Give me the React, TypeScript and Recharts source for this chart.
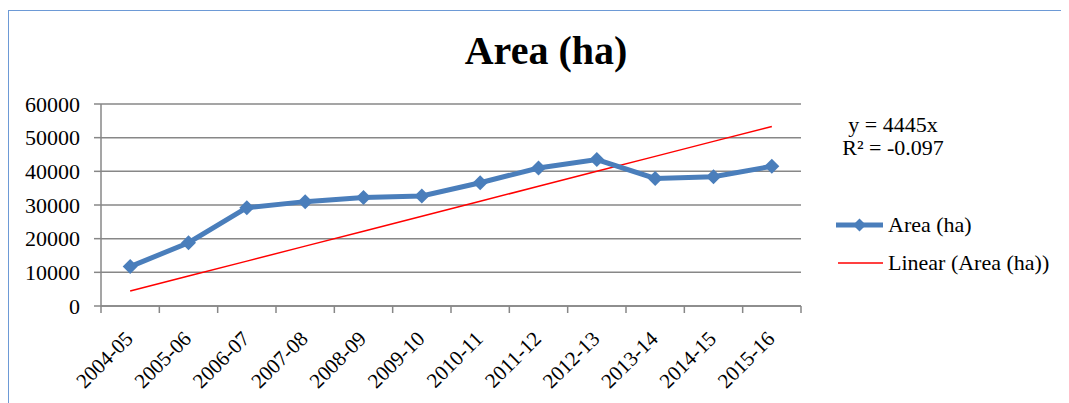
import React from "react"
import { LineChart, Line, XAxis, YAxis, CartesianGrid, Legend } from "recharts"

const categories = ["2004-05", "2005-06", "2006-07", "2007-08", "2008-09", "2009-10", "2010-11", "2011-12", "2012-13", "2013-14", "2014-15", "2015-16"]
const areaValues = [11700, 18800, 29200, 31000, 32200, 32700, 36600, 41000, 43500, 37900, 38400, 41500]
// linear trendline y = 4445x, as labelled on the chart
const trendValues = [4445, 8890, 13335, 17780, 22225, 26670, 31115, 35560, 40005, 44450, 48895, 53340]
const yTicks = [0, 10000, 20000, 30000, 40000, 50000, 60000]
const seriesNames = ["Area (ha)", "Linear (Area (ha))"]
const equationLines = ["y = 4445x", "R² = -0.097"]

const data = categories.map((c, i) => ({ year: c, area: areaValues[i], trend: trendValues[i] }))

const W = 1061
const H = 395
const M = { top: 96, right: 268, bottom: 0, left: 0 }
const Y_W = 93
const X_H = 97
const PLOT_BOTTOM = H - M.bottom - X_H
const BAND = (W - M.left - M.right - Y_W) / categories.length
const FONT = '"Liberation Serif", "Times New Roman", serif'
const BLUE = "#4A7EBB"
const RED = "#FF0000"
const GRID = "#878787"

const Diamond = ({ cx, cy, size = 7.5 }: any) => {
  if (cx == null || cy == null) return null
  return <path d={`M${cx} ${cy - size}L${cx + size} ${cy}L${cx} ${cy + size}L${cx - size} ${cy}Z`} fill={BLUE} />
}

const XTick = ({ x, payload, index }: any) => {
  const half = BAND / 2
  const ax = x + 4
  const ay = PLOT_BOTTOM + 34
  return (
    <g>
      <line x1={x - half} x2={x - half} y1={PLOT_BOTTOM} y2={PLOT_BOTTOM + 7} stroke={GRID} strokeWidth={1.5} />
      {index === categories.length - 1 && (
        <line x1={x + half} x2={x + half} y1={PLOT_BOTTOM} y2={PLOT_BOTTOM + 7} stroke={GRID} strokeWidth={1.5} />
      )}
      <text x={ax} y={ay} transform={`rotate(-45 ${ax} ${ay})`} textAnchor="end" style={{ fontFamily: FONT, fontSize: 21 }} fill="#000">
        {payload.value}
      </text>
    </g>
  )
}

const YTick = ({ x, y, payload }: any) => (
  <text x={x} y={y} dy="0.35em" textAnchor="end" style={{ fontFamily: FONT, fontSize: 22 }} fill="#000">
    {payload.value}
  </text>
)

const LegendBox = () => (
  <svg width={245} height={180} style={{ display: "block", overflow: "visible" }}>
    <g style={{ fontFamily: FONT, fontSize: 22 }} fill="#000">
      <text x={65} y={24} textAnchor="middle">{equationLines[0]}</text>
      <text x={65} y={47} textAnchor="middle">{equationLines[1]}</text>
      <line x1={8} x2={55} y1={117} y2={117} stroke={BLUE} strokeWidth={5} />
      <Diamond cx={31.5} cy={117} size={6.5} />
      <text x={60} y={124}>{seriesNames[0]}</text>
      <line x1={10} x2={55} y1={155} y2={155} stroke={RED} strokeWidth={1.5} />
      <text x={60} y={162}>{seriesNames[1]}</text>
    </g>
  </svg>
)

export default function App() {
  return (
    <div style={{ position: "relative", width: W, height: H }}>
      <div style={{ position: "absolute", left: 0, top: 2, width: W, height: H - 2, borderTop: "1.5px solid #6D9AD6", borderLeft: "1.5px solid #6D9AD6", boxSizing: "border-box" }} />
      <div style={{ position: "absolute", left: 388, top: 23, width: 300, textAlign: "center", fontFamily: FONT, fontWeight: 700, fontSize: 40, lineHeight: "40px", color: "#000" }}>
        Area (ha)
      </div>
      <LineChart width={W} height={H} data={data} margin={M}>
        <CartesianGrid vertical={false} stroke={GRID} strokeWidth={1.5} />
        <XAxis
          dataKey="year"
          scale="band"
          height={X_H}
          interval={0}
          tickLine={false}
          axisLine={{ stroke: GRID, strokeWidth: 1.5 }}
          tick={<XTick />}
        />
        <YAxis
          width={Y_W}
          domain={[0, 60000]}
          ticks={yTicks}
          interval={0}
          tickSize={7}
          tickMargin={14}
          axisLine={{ stroke: GRID, strokeWidth: 1.5 }}
          tickLine={{ stroke: GRID, strokeWidth: 1.5 }}
          tick={<YTick />}
        />
        <Legend
          layout="horizontal"
          verticalAlign="middle"
          align="center"
          content={() => <LegendBox />}
          wrapperStyle={{ position: "absolute", left: 820, top: 100, width: 245, height: 180 }}
        />
        <Line type="linear" dataKey="trend" name={seriesNames[1]} stroke={RED} strokeWidth={1.5} dot={false} activeDot={false} isAnimationActive={false} />
        <Line
          type="linear"
          dataKey="area"
          name={seriesNames[0]}
          stroke={BLUE}
          strokeWidth={5}
          dot={(p: any) => <Diamond key={`d-${p.index}`} cx={p.cx} cy={p.cy} size={7.5} />}
          activeDot={false}
          isAnimationActive={false}
        />
      </LineChart>
    </div>
  )
}
